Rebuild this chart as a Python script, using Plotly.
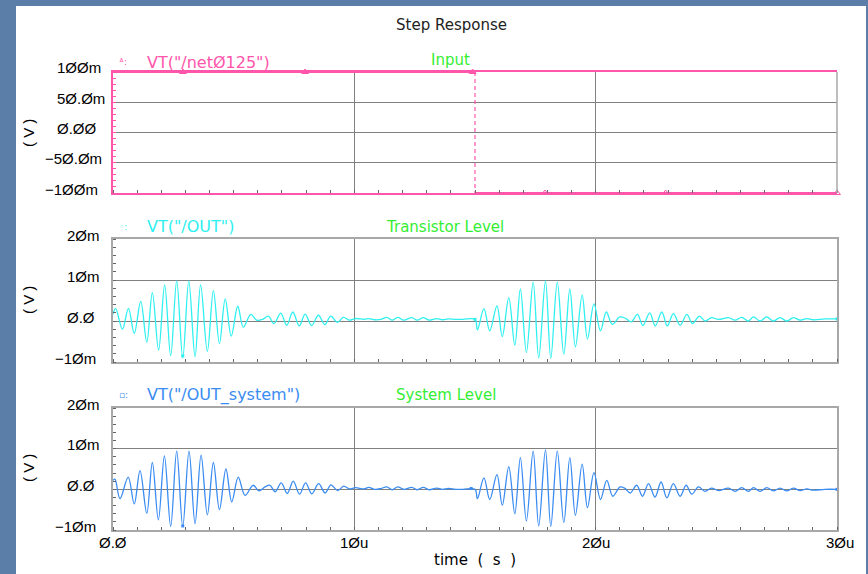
import plotly.graph_objects as go

# ---------------- data (time in us, voltage in mV) ----------------
input_t = [0.0, 15.0, 15.0, 30.0]
input_v = [100.0, 100.0, -100.0, -100.0]
input_mark_t = [2.9, 7.96, 14.9, 17.9, 22.9, 30.0]
input_mark_v = [100.0, 100.0, 100.0, -100.0, -100.0, -100.0]

tr_t = [0.00, 0.11, 0.39, 0.64, 0.88, 1.15, 1.40, 1.63, 1.89, 2.14, 2.39, 2.64, 2.89,
        3.14, 3.40, 3.63, 3.91, 4.16, 4.41, 4.65, 4.90, 5.17, 5.40, 5.71, 5.95, 6.20,
        6.44, 6.67, 6.95, 7.20, 7.45, 7.72, 7.96, 8.23, 8.51, 8.78, 9.02, 9.30, 9.55,
        9.80, 10.05, 10.40, 10.60, 10.85, 11.10, 11.34, 11.57, 11.80, 12.05, 12.38,
        12.60, 12.86, 13.10, 13.41, 13.65, 13.90, 14.20, 14.50, 15.00, 15.10, 15.37,
        15.61, 15.91, 16.13, 16.40, 16.65, 16.88, 17.13, 17.41, 17.64, 17.92, 18.14,
        18.41, 18.68, 18.93, 19.16, 19.44, 19.66, 19.93, 20.20, 20.44, 20.69, 21.00,
        21.25, 21.48, 21.73, 21.96, 22.24, 22.47, 22.74, 22.97, 23.22, 23.50, 23.78,
        24.01, 24.30, 24.53, 24.80, 25.09, 25.50, 25.78, 26.05, 26.33, 26.54, 26.81,
        27.09, 27.36, 27.64, 27.92, 28.19, 28.47, 28.75, 29.02, 29.50, 30.00]
tr_v = [1.6, 3.1, -2.0, 3.1, -3.0, 4.8, -5.2, 6.9, -7.1, 8.8, -8.5, 9.8, -9.0,
        9.8, -8.7, 8.8, -7.4, 7.4, -5.5, 5.4, -3.7, 3.6, -1.5, 1.6, 0.2, 0.4,
        1.2, -0.65, 1.9, -1.05, 2.2, -1.2, 1.7, -1.1, 1.4, -0.9, 1.2, -0.3, 0.9,
        0.2, 0.6, 0.4, 0.6, 0.3, 0.4, 0.9, 0.2, 0.9, 0.2, 0.8,
        0.2, 0.8, 0.2, 0.6, 0.3, 0.5, 0.4, 0.4, 0.4, -2.2, 3.0,
        -2.4, 3.7, -3.8, 5.7, -5.9, 7.8, -7.7, 9.5, -9.0, 9.8, -9.1,
        9.5, -8.1, 7.8, -6.3, 6.3, -4.4, 4.2, -2.4, 2.2, -0.8, 1.0,
        0.6, -0.2, 1.6, -1.1, 2.0, -1.2, 2.2, -1.2, 1.8, -1.0, 1.6,
        -0.6, 1.2, 0.0, 0.8, 0.4, 0.8, 0.2, 0.9, 0.0, 1.0, 0.0,
        1.0, 0.0, 0.8, 0.0, 0.8, 0.2, 0.6, 0.3, 0.5, 0.5]
tr_mark_t = [2.89, 15.0, 30.0]
tr_mark_v = [-8.5, 0.4, 0.5]

sys_t = [0.00, 0.08, 0.29, 0.63, 0.88, 1.12, 1.40, 1.63, 1.88, 2.13, 2.39, 2.64, 2.89,
         3.15, 3.40, 3.65, 3.91, 4.16, 4.41, 4.68, 4.92, 5.19, 5.47, 5.81, 6.05, 6.30,
         6.50, 6.72, 6.97, 7.22, 7.47, 7.73, 7.98, 8.24, 8.52, 8.79, 9.03, 9.31, 9.56,
         9.80, 10.05, 10.40, 10.60, 10.85, 11.10, 11.34, 11.57, 11.80, 12.05, 12.38,
         12.60, 12.86, 13.10, 13.41, 13.65, 13.90, 14.20, 14.50, 15.00, 15.10, 15.37,
         15.61, 15.91, 16.13, 16.40, 16.65, 16.88, 17.13, 17.41, 17.64, 17.92, 18.14,
         18.41, 18.68, 18.93, 19.16, 19.44, 19.66, 19.93, 20.20, 20.46, 20.71, 21.01,
         21.20, 21.43, 21.70, 21.94, 22.19, 22.46, 22.71, 22.95, 23.22, 23.50, 23.75,
         23.98, 24.26, 24.53, 24.80, 25.09, 25.50, 25.78, 26.05, 26.33, 26.54, 26.81,
         27.09, 27.36, 27.64, 27.92, 28.19, 28.47, 28.75, 29.02, 29.50, 30.00]
sys_v = [2.2, 2.5, -2.3, 3.0, -3.6, 4.6, -5.9, 6.6, -7.5, 8.2, -9.1, 9.4, -9.1,
         9.4, -8.4, 8.4, -6.3, 6.6, -5.0, 5.0, -3.1, 3.0, -1.5, 1.0, -0.4, 0.6,
         1.0, -0.6, 1.6, -1.0, 2.0, -1.2, 1.6, -1.1, 1.4, -0.9, 1.1, -0.3, 0.8,
         0.1, 0.4, 0.1, 0.5, 0.0, 0.2, 0.6, -0.1, 0.6, 0.0, 0.5,
         -0.1, 0.5, -0.1, 0.3, 0.0, 0.2, 0.0, 0.0, 0.0, -2.3, 2.8,
         -2.5, 3.6, -3.9, 5.6, -6.0, 7.8, -7.8, 9.4, -9.0, 9.7, -9.1,
         9.4, -8.2, 7.8, -6.4, 6.2, -4.5, 4.1, -2.5, 2.2, -1.7, 0.6,
         0.3, -0.9, 1.0, -1.7, 1.4, -1.9, 1.8, -2.1, 1.4, -1.7, 1.0,
         -1.2, 0.6, -0.5, 0.3, -0.3, 0.3, -0.5, 0.4, -0.5, 0.4, -0.5,
         0.4, -0.4, 0.3, -0.4, 0.3, -0.3, 0.1, -0.2, 0.0, 0.0]
sys_mark_t = [2.89, 14.84, 30.0]
sys_mark_v = [-9.0, 0.2, 0.0]

x_tickvals = [0, 10, 20, 30]
x_ticktext = ["Ø.Ø", "1Øu", "2Øu", "3Øu"]
y1_tickvals = [-100, -50, 0, 50, 100]
y1_ticktext = ["−1ØØm", "−5Ø.Øm", "Ø.ØØ", "5Ø.Øm", "1ØØm"]
y23_tickvals = [-10, 0, 10, 20]
y23_ticktext = ["−1Øm", "Ø.Ø", "1Øm", "2Øm"]

# ---------------- style ----------------
W, H = 868, 574
PINK = "#ff55aa"
CYAN = "#2ef0f0"
BLUE = "#3a8cf2"
GREEN = "#33ee33"
GRID = "#808080"
BORDER = "#a8a8a8"
FONT = "Liberation Sans"
TFONT = "DejaVu Sans"


def px(x, y):
    return x / W, 1 - y / H


xl, _ = px(113, 0)
xr, _ = px(837, 0)
dom1 = [1 - 193 / H, 1 - 72 / H]
dom2 = [1 - 362 / H, 1 - 239 / H]
dom3 = [1 - 530 / H, 1 - 408 / H]

fig = go.Figure()

# input (solid/dashed split)
fig.add_trace(go.Scatter(x=input_t[0:2], y=input_v[0:2], mode="lines",
                         line=dict(color=PINK, width=2), xaxis="x", yaxis="y"))
fig.add_trace(go.Scatter(x=input_t[1:3], y=input_v[1:3], mode="lines",
                         line=dict(color=PINK, width=1.2, dash="4px,3px"), xaxis="x", yaxis="y"))
fig.add_trace(go.Scatter(x=input_t[2:4], y=input_v[2:4], mode="lines",
                         line=dict(color=PINK, width=2), xaxis="x", yaxis="y"))
fig.add_trace(go.Scatter(x=input_mark_t, y=input_mark_v, mode="markers", cliponaxis=False,
                         marker=dict(symbol="triangle-up-open", size=6, color=PINK,
                                     line=dict(width=1)), xaxis="x", yaxis="y"))

fig.add_trace(go.Scatter(x=tr_t, y=tr_v, mode="lines",
                         line=dict(color=CYAN, width=1.3, shape="spline", smoothing=1.0),
                         xaxis="x2", yaxis="y2"))
fig.add_trace(go.Scatter(x=tr_mark_t, y=tr_mark_v, mode="markers", cliponaxis=False,
                         marker=dict(symbol="square", size=3, color=CYAN),
                         xaxis="x2", yaxis="y2"))

fig.add_trace(go.Scatter(x=sys_t, y=sys_v, mode="lines",
                         line=dict(color=BLUE, width=1.3, shape="spline", smoothing=1.0),
                         xaxis="x3", yaxis="y3"))
fig.add_trace(go.Scatter(x=sys_mark_t, y=sys_mark_v, mode="markers", cliponaxis=False,
                         marker=dict(symbol="square", size=3, color=BLUE),
                         xaxis="x3", yaxis="y3"))


def xaxis_def(anchor, linecolor):
    return dict(domain=[xl, xr], anchor=anchor, range=[0, 30], tickmode="array",
                tickvals=x_tickvals, showticklabels=False,
                ticks="", showgrid=True, gridcolor=GRID, gridwidth=1, zeroline=False,
                showline=True, mirror=True, linecolor=linecolor, linewidth=1.5,
                automargin=False,
                minor=dict(dtick=1, tick0=0, ticks="inside", ticklen=3,
                           tickcolor="#666666", showgrid=False))


def yaxis_def(anchor, dom, rng, tv, mdt, linecolor, mirror, minorcolor):
    return dict(domain=dom, anchor=anchor, range=rng, tickmode="array", tickvals=tv,
                showticklabels=False, ticks="", showgrid=True, gridcolor=GRID, gridwidth=1,
                zeroline=False, showline=True, mirror=mirror, linecolor=linecolor,
                linewidth=1.5, automargin=False,
                minor=dict(dtick=mdt, tick0=0, ticks="inside", ticklen=3,
                           tickcolor=minorcolor, showgrid=False))


shapes = [
    dict(type="rect", xref="paper", yref="paper", x0=16 / W, x1=866 / W, y0=0,
         y1=1 - 6 / H, fillcolor="white", line=dict(width=0), layer="below"),
    dict(type="line", xref="x domain", yref="y domain", x0=1, x1=1, y0=0, y1=1,
         line=dict(color=BORDER, width=1.5), layer="above"),
]


def ann(x, y, text, color, size=15, angle=0, xanchor="center", family=TFONT):
    ax, ay = px(x, y)
    return dict(x=ax, y=ay, xref="paper", yref="paper", text=text, showarrow=False,
                font=dict(family=family, size=size, color=color), textangle=angle,
                xanchor=xanchor, yanchor="middle")


annotations = [
    ann(451, 25, "Step Response", "#222222", 15),
    ann(450, 60, "Input", GREEN, 15),
    ann(445, 227, "Transistor Level", GREEN, 15),
    ann(446, 395, "System Level", GREEN, 15),
    ann(117, 62, "ᐞ:", PINK, 9, xanchor="left"),
    ann(145, 62, "VT(\"/netØ125\")", PINK, 16, xanchor="left"),
    ann(117, 227, "◦:", CYAN, 9, xanchor="left"),
    ann(145, 227, "VT(\"/OUT\")", CYAN, 16, xanchor="left"),
    ann(117, 395, "▫:", BLUE, 9, xanchor="left"),
    ann(145, 395, "VT(\"/OUT_system\")", BLUE, 16, xanchor="left"),
    ann(28, 133, "( V )", "#000000", 15, angle=-90, family=FONT),
    ann(28, 300, "( V )", "#000000", 15, angle=-90, family=FONT),
    ann(28, 468, "( V )", "#000000", 15, angle=-90, family=FONT),
    ann(475, 560, "time  (  s  )", "#000000", 15),
]


def y_tick_anns(yref, vals, texts, x_pos, x_neg):
    out = []
    for v, t in zip(vals, texts):
        out.append(dict(x=(x_neg if t.startswith("−") else x_pos) / W, xref="paper",
                        y=v, yref=yref, yshift=4, text=t, showarrow=False,
                        xanchor="left", yanchor="middle",
                        font=dict(family=FONT, size=15, color="#000000")))
    return out


annotations += y_tick_anns("y", y1_tickvals, y1_ticktext, 55, 43)
annotations += y_tick_anns("y2", y23_tickvals, y23_ticktext, 65, 53)
annotations += y_tick_anns("y3", y23_tickvals, y23_ticktext, 65, 53)
for v, t in zip(x_tickvals, x_ticktext):
    annotations.append(dict(x=v, xref="x3", y=1 - 542 / H, yref="paper", text=t,
                            showarrow=False, xanchor="center", yanchor="middle",
                            xshift=3 if v == 30 else 0,
                            font=dict(family=FONT, size=15, color="#000000")))

fig.update_layout(
    width=W, height=H, margin=dict(l=0, r=0, t=0, b=0, pad=0, autoexpand=False),
    paper_bgcolor="#5a7ea8", plot_bgcolor="white", showlegend=False,
    xaxis=xaxis_def("y", PINK),
    xaxis2=xaxis_def("y2", BORDER),
    xaxis3=xaxis_def("y3", BORDER),
    yaxis=yaxis_def("x", dom1, [-100, 100], y1_tickvals, 10, PINK, False, PINK),
    yaxis2=yaxis_def("x2", dom2, [-10, 20], y23_tickvals, 2, BORDER, True, "#666666"),
    yaxis3=yaxis_def("x3", dom3, [-10, 20], y23_tickvals, 2, BORDER, True, "#666666"),
    shapes=shapes, annotations=annotations,
)
fig.update_xaxes(matches="x")

fig.write_html(
    "out.html",
    post_script="document.body.style.margin='0';document.body.style.padding='0';"
                "document.documentElement.style.overflow='hidden';",
)
